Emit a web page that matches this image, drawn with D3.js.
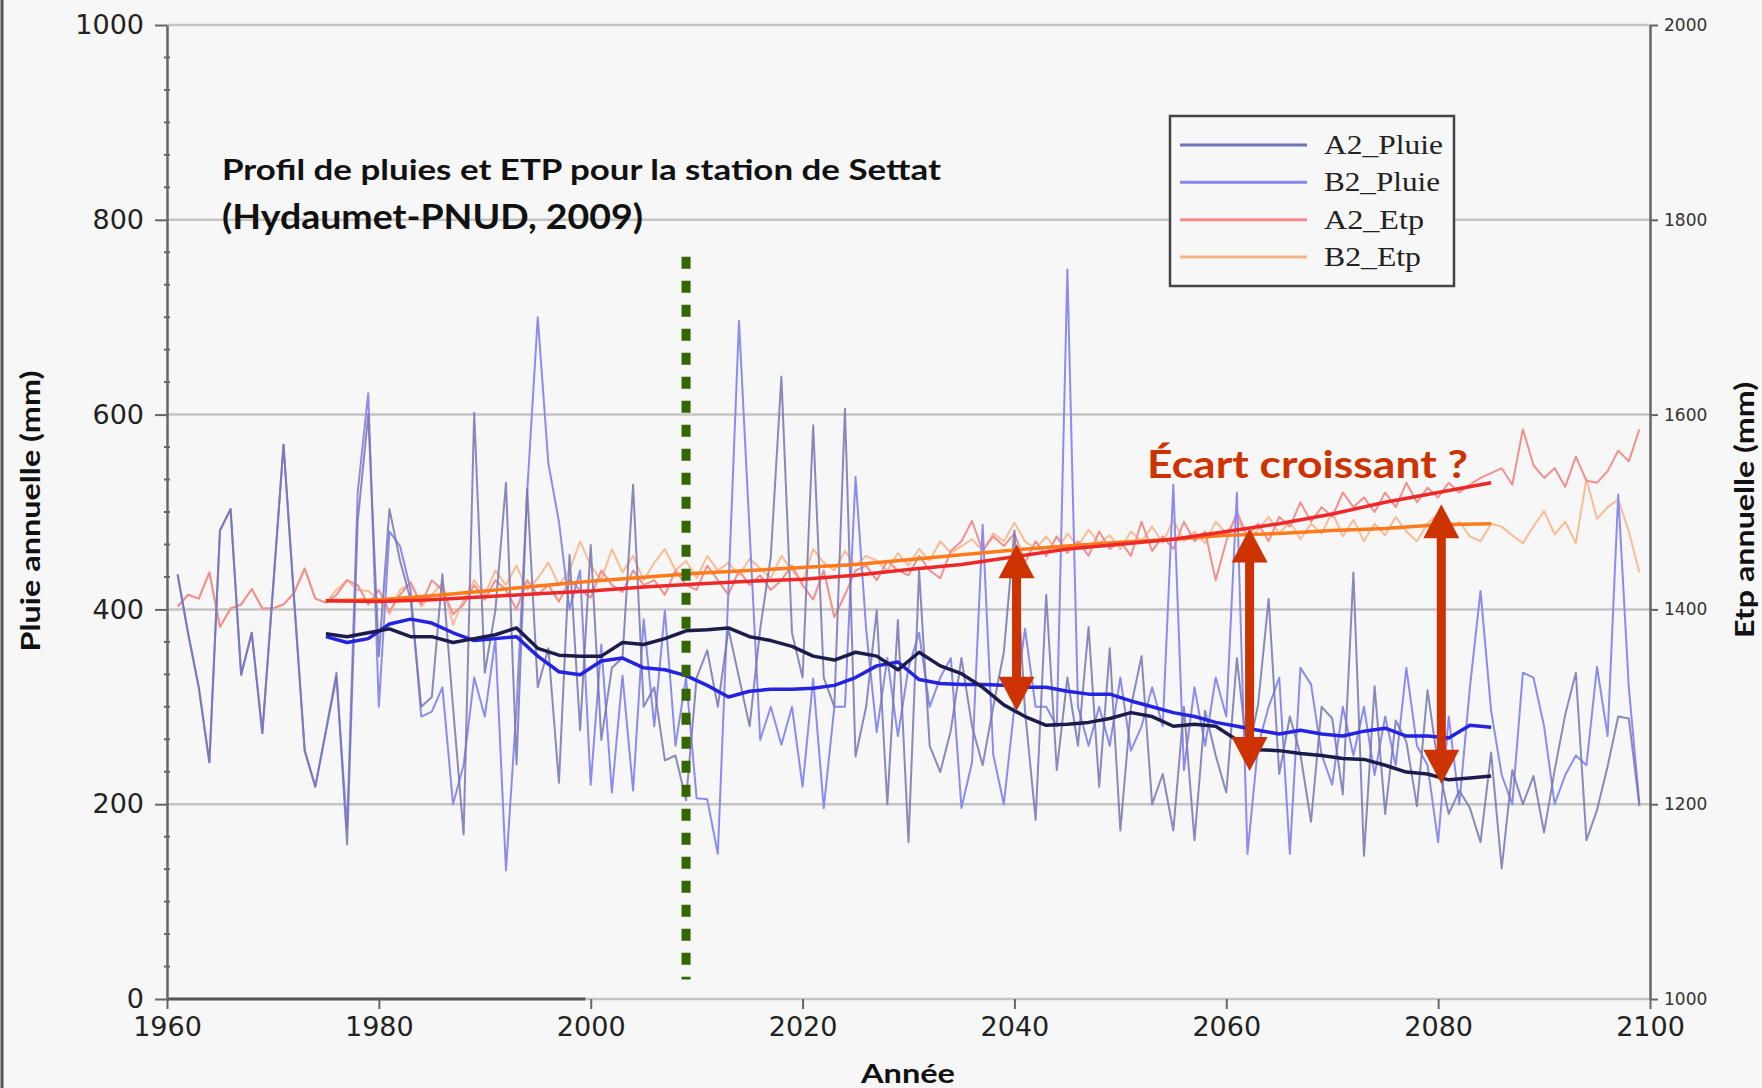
<!DOCTYPE html>
<html><head><meta charset="utf-8">
<script src="https://cdn.jsdelivr.net/npm/d3@7"></script>
<style>html,body{margin:0;padding:0;background:#f7f7f7;} svg{display:block;}</style>
</head><body><svg id="c" width="1762" height="1088"></svg>
<script>
// ---------- DATA ----------
const firstYear = 1961, lastYear = 2099;
const yearTicks = [1960, 1980, 2000, 2020, 2040, 2060, 2080, 2100];
const pluieTicks = [0, 200, 400, 600, 800, 1000];
const etpTicks = [1000, 1200, 1400, 1600, 1800, 2000];

// observed period (common to both scenarios) 1961-1975
const obsPluie = [436, 375, 320, 243, 481, 503, 333, 376, 273, 420, 569, 410, 255, 218, 275];
const obsEtp = [1403, 1415, 1411, 1438, 1382, 1401, 1405, 1421, 1401, 1401, 1405, 1417, 1442, 1411, 1407];

// scenarios 1976-2099
const A2_Pluie = [335, 159, 490, 600, 352, 503, 450, 410, 300, 310, 436, 300, 169, 602, 335, 399, 530, 241, 524, 320,
  360, 222, 456, 276, 466, 266, 340, 350, 528, 300, 320, 245, 250, 204, 330, 358, 300, 380, 330, 280,
  380, 454, 639, 376, 330, 589, 330, 300, 606, 249, 300, 399, 200, 389, 161, 440, 260, 233, 276, 350,
  280, 240, 300, 356, 481, 296, 184, 415, 235, 330, 260, 382, 218, 360, 173, 300, 352, 200, 231, 173,
  300, 163, 296, 250, 212, 350, 250, 302, 411, 231, 290, 251, 182, 300, 288, 210, 438, 147, 321, 190,
  286, 264, 198, 317, 240, 190, 214, 196, 161, 253, 134, 235, 200, 229, 171, 235, 292, 335, 163, 194,
  239, 290, 288, 198];
const B2_Pluie = [330, 175, 520, 622, 300, 480, 465, 420, 290, 295, 320, 200, 240, 330, 290, 370, 132, 300, 520, 700,
  550, 490, 400, 440, 220, 364, 212, 332, 214, 390, 280, 399, 260, 330, 206, 205, 149, 420, 696, 480,
  266, 300, 261, 300, 218, 329, 196, 300, 300, 536, 380, 274, 350, 270, 340, 376, 300, 330, 350, 196,
  243, 487, 251, 200, 300, 380, 300, 300, 280, 749, 300, 260, 300, 260, 330, 255, 280, 320, 280, 528,
  235, 320, 260, 330, 290, 520, 149, 260, 300, 330, 149, 340, 323, 251, 220, 300, 250, 300, 230, 290,
  240, 340, 260, 240, 161, 290, 200, 320, 419, 296, 230, 200, 335, 330, 280, 200, 230, 250, 240, 341,
  270, 518, 320, 200];
const A2_Etp = [1415, 1430, 1425, 1405, 1420, 1398, 1415, 1428, 1405, 1430, 1420, 1395, 1405, 1425, 1410, 1430, 1420, 1400, 1430, 1415,
  1425, 1408, 1430, 1420, 1412, 1440, 1425, 1418, 1440, 1425, 1430, 1415, 1440, 1425, 1420, 1445, 1430, 1415, 1440, 1425,
  1435, 1420, 1430, 1445, 1425, 1410, 1440, 1392, 1415, 1440, 1445, 1430, 1450, 1440, 1435, 1455, 1440, 1432, 1460, 1470,
  1491, 1460, 1475, 1465, 1478, 1448, 1470, 1455, 1475, 1458, 1470, 1455, 1480, 1462, 1470, 1455, 1490, 1460, 1475, 1462,
  1490, 1470, 1480, 1430, 1470, 1500, 1475, 1488, 1470, 1495, 1485, 1510, 1490, 1505, 1495, 1520, 1505, 1515, 1500, 1520,
  1505, 1530, 1510, 1525, 1515, 1530, 1520, 1528, 1535, 1540, 1545, 1528, 1585, 1548, 1535, 1545, 1526, 1557, 1532, 1530,
  1542, 1563, 1552, 1585];
const B2_Etp = [1420, 1430, 1420, 1419, 1410, 1395, 1420, 1427, 1403, 1415, 1427, 1384, 1410, 1430, 1415, 1440, 1425, 1445, 1420, 1432,
  1448, 1425, 1440, 1470, 1445, 1430, 1462, 1438, 1455, 1430, 1448, 1462, 1440, 1450, 1432, 1455, 1440, 1448, 1435, 1452,
  1442, 1432, 1455, 1440, 1428, 1462, 1448, 1440, 1460, 1445, 1455, 1450, 1440, 1458, 1445, 1462, 1450, 1470, 1458, 1465,
  1472, 1460, 1478, 1470, 1489, 1470, 1462, 1475, 1460, 1478, 1465, 1482, 1468, 1476, 1462, 1480, 1470, 1485, 1468, 1492,
  1470, 1480, 1468, 1490, 1478, 1495, 1470, 1482, 1495, 1478, 1490, 1472, 1488, 1478, 1500, 1475, 1492, 1470, 1488, 1476,
  1495, 1480, 1470, 1488, 1498, 1482, 1490, 1475, 1470, 1488, 1485, 1476, 1468, 1485, 1501, 1477, 1490, 1468, 1534, 1493,
  1505, 1513, 1480, 1438];

// 29-year moving averages (read every 2 years, 1975-2085)
const maPluieYears = d3.range(1975, 2086, 2);
const A2_PluieMA = [375, 372, 376, 380, 372, 372, 366, 370, 374, 381, 360, 353, 352, 352, 366, 364, 370, 378, 379, 381,
  372, 368, 362, 352, 348, 356, 352, 338, 356, 342, 334, 320, 302, 290, 281, 282, 284, 288, 294, 290,
  280, 282, 280, 266, 256, 255, 252, 250, 247, 246, 240, 233, 231, 225, 227, 229];
const B2_PluieMA = [372, 366, 370, 385, 390, 386, 376, 368, 370, 372, 352, 336, 333, 347, 350, 340, 338, 332, 322, 310,
  316, 318, 318, 319, 322, 330, 342, 346, 328, 324, 323, 323, 322, 320, 320, 316, 313, 313, 306, 300,
  294, 290, 284, 280, 276, 272, 276, 272, 270, 275, 278, 270, 270, 268, 281, 279];
// ETP moving averages (read every 5 years, 1975-2085)
const maEtpYears = d3.range(1975, 2086, 5);
const A2_EtpMA = [1409, 1408, 1410, 1413, 1416, 1419, 1423, 1426, 1429, 1431, 1435, 1441, 1446, 1454, 1462, 1467, 1472, 1480, 1488, 1498, 1510, 1520, 1530];
const B2_EtpMA = [1409, 1410, 1414, 1419, 1424, 1429, 1433, 1437, 1440, 1443, 1446, 1451, 1456, 1461, 1465, 1469, 1472, 1476, 1478, 1481, 1483, 1487, 1488];

// annotations
const presentYear = 2009, presentTop = 762, presentBottom = 20;
const arrowYears = [2040.2, 2062.2, 2080.3];
const arrowTop = [467, 483, 508];
const arrowBottom = [296, 234, 221];
const legendLabels = ["A2_Pluie", "B2_Pluie", "A2_Etp", "B2_Etp"];

// ---------- DRAW ----------
const svg = d3.select("#c");
const x = d3.scaleLinear().domain([1960, 2100]).range([167, 1650]);
const yL = d3.scaleLinear().domain([0, 1000]).range([999, 25]);
const yR = d3.scaleLinear().domain([1000, 2000]).range([999, 25]);

svg.append("rect").attr("width", 1762).attr("height", 1088).attr("fill", "#f7f7f7");
svg.append("line").attr("x1", 2).attr("x2", 2).attr("y1", 0).attr("y2", 1088).attr("stroke", "#555").attr("stroke-width", 3);

// gridlines
svg.append("g").selectAll("line").data(pluieTicks).join("line")
  .attr("x1", x(1960)).attr("x2", x(2100))
  .attr("y1", d => yL(d)).attr("y2", d => yL(d))
  .attr("stroke", "#c4c4c4").attr("stroke-width", 2.5);
svg.append("line").attr("x1", x(1960)).attr("x2", x(1999.5)).attr("y1", yL(0)).attr("y2", yL(0))
  .attr("stroke", "#555").attr("stroke-width", 3);

// left axis
const gL = svg.append("g").attr("transform", `translate(${x(1960)},0)`)
  .call(d3.axisLeft(yL).tickValues(pluieTicks).tickFormat(d3.format("d")).tickSize(12).tickSizeOuter(0).tickPadding(11));
gL.select(".domain").attr("stroke", "#666").attr("stroke-width", 2.5);
gL.selectAll(".tick line").attr("stroke", "#666").attr("stroke-width", 2);
gL.selectAll("text").attr("font-family", "DejaVu Sans").attr("font-size", 27).attr("fill", "#222");
// minor ticks
const minor = d3.range(0, 1001, 200 / 6).filter(v => Math.abs(v / 200 - Math.round(v / 200)) > 0.01);
svg.append("g").selectAll("line").data(minor).join("line")
  .attr("x1", x(1960) - 3).attr("x2", x(1960) + 3)
  .attr("y1", d => yL(d)).attr("y2", d => yL(d)).attr("stroke", "#666").attr("stroke-width", 2);

// right axis
const gR = svg.append("g").attr("transform", `translate(${x(2100)},0)`)
  .call(d3.axisRight(yR).tickValues(etpTicks).tickFormat(d3.format("d")).tickSize(8).tickSizeOuter(0).tickPadding(6));
gR.select(".domain").attr("stroke", "#666").attr("stroke-width", 2.5);
gR.selectAll(".tick line").attr("stroke", "#666").attr("stroke-width", 2);
gR.selectAll("text").attr("font-family", "DejaVu Sans").attr("font-size", 17).attr("fill", "#333");

// bottom axis
const gB = svg.append("g").attr("transform", `translate(0,${yL(0)})`)
  .call(d3.axisBottom(x).tickValues(yearTicks).tickFormat(d3.format("d")).tickSize(10).tickSizeOuter(0).tickPadding(8));
gB.select(".domain").remove();
gB.selectAll(".tick line").attr("stroke", "#666").attr("stroke-width", 2);
gB.selectAll("text").attr("font-family", "DejaVu Sans").attr("font-size", 27).attr("fill", "#222");

// series
const yearsFut = d3.range(1976, lastYear + 1);
const yearsObs = d3.range(firstYear, 1976);
const mk = (obs, fut) => yearsObs.map((yr, i) => ({yr, v: obs[i]})).concat(yearsFut.map((yr, i) => ({yr, v: fut[i]})));
const lineL = d3.line().x(d => x(d.yr)).y(d => yL(d.v));
const lineR = d3.line().x(d => x(d.yr)).y(d => yR(d.v));

const plot = svg.append("g").attr("fill", "none").attr("stroke-linejoin", "round");
plot.append("path").datum(mk(obsEtp, B2_Etp)).attr("d", lineR).attr("stroke", "#f8bc96").attr("stroke-width", 2);
plot.append("path").datum(mk(obsEtp, A2_Etp)).attr("d", lineR).attr("stroke", "#f09090").attr("stroke-width", 2);
plot.append("path").datum(mk(obsPluie, B2_Pluie)).attr("d", lineL).attr("stroke", "#8c8cf0").attr("stroke-width", 2);
plot.append("path").datum(mk(obsPluie, A2_Pluie)).attr("d", lineL).attr("stroke", "#7676b2").attr("stroke-width", 2).attr("stroke-opacity", 0.85);

const maL = (arr) => maPluieYears.map((yr, i) => ({yr, v: arr[i]}));
const maR = (arr) => maEtpYears.map((yr, i) => ({yr, v: arr[i]}));
plot.append("path").datum(maR(B2_EtpMA)).attr("d", lineR).attr("stroke", "#ff7a1a").attr("stroke-width", 3.5);
plot.append("path").datum(maR(A2_EtpMA)).attr("d", lineR).attr("stroke", "#ee2828").attr("stroke-width", 3.5);
plot.append("path").datum(maL(B2_PluieMA)).attr("d", lineL).attr("stroke", "#2323e0").attr("stroke-width", 3.5);
plot.append("path").datum(maL(A2_PluieMA)).attr("d", lineL).attr("stroke", "#1c1c4c").attr("stroke-width", 3.5);

// present-day dotted line
svg.append("line").attr("x1", x(presentYear)).attr("x2", x(presentYear))
  .attr("y1", yL(presentTop)).attr("y2", yL(presentBottom))
  .attr("stroke", "#336600").attr("stroke-width", 9).attr("stroke-dasharray", "12,12");

// arrows
const hl = 34, hw = 18, sw = 4.5;
svg.append("g").selectAll("path").data(arrowYears).join("path")
  .attr("d", (yr, i) => {
    const xa = x(yr), t = yL(arrowTop[i]), b = yL(arrowBottom[i]);
    return `M${xa},${t}L${xa + hw},${t + hl}L${xa + sw},${t + hl}L${xa + sw},${b - hl}L${xa + hw},${b - hl}L${xa},${b}` +
      `L${xa - hw},${b - hl}L${xa - sw},${b - hl}L${xa - sw},${t + hl}L${xa - hw},${t + hl}Z`;
  })
  .attr("fill", "#cc3300");

// texts
const bold = "Lato, 'Open Sans', sans-serif";
svg.append("text").attr("x", 222).attr("y", 180).attr("font-family", bold).attr("font-weight", 700)
  .attr("font-size", 29).attr("textLength", 719).attr("lengthAdjust", "spacingAndGlyphs").attr("fill", "#111")
  .text("Profil de pluies et ETP pour la station de Settat");
svg.append("text").attr("x", 222).attr("y", 229).attr("font-family", bold).attr("font-weight", 700)
  .attr("font-size", 34).attr("textLength", 421).attr("lengthAdjust", "spacingAndGlyphs").attr("fill", "#111")
  .text("(Hydaumet-PNUD, 2009)");
svg.append("text").attr("x", 1147).attr("y", 478).attr("font-family", bold).attr("font-weight", 700)
  .attr("font-size", 38).attr("textLength", 321).attr("lengthAdjust", "spacingAndGlyphs").attr("fill", "#cc3300")
  .text("Écart croissant ?");
svg.append("text").attr("transform", "translate(40,511) rotate(-90)").attr("text-anchor", "middle")
  .attr("font-family", bold).attr("font-weight", 700).attr("font-size", 26)
  .attr("textLength", 281).attr("lengthAdjust", "spacingAndGlyphs").attr("fill", "#111")
  .text("Pluie annuelle (mm)");
svg.append("text").attr("transform", "translate(1754,510) rotate(-90)").attr("text-anchor", "middle")
  .attr("font-family", bold).attr("font-weight", 700).attr("font-size", 26)
  .attr("textLength", 256).attr("lengthAdjust", "spacingAndGlyphs").attr("fill", "#111")
  .text("Etp annuelle (mm)");
svg.append("text").attr("x", 908).attr("y", 1083).attr("text-anchor", "middle")
  .attr("font-family", bold).attr("font-weight", 700).attr("font-size", 27)
  .attr("textLength", 94).attr("lengthAdjust", "spacingAndGlyphs").attr("fill", "#111")
  .text("Année");

// legend
const leg = svg.append("g");
leg.append("rect").attr("x", 1170).attr("y", 116).attr("width", 284).attr("height", 170)
  .attr("fill", "#f7f7f7").attr("stroke", "#444").attr("stroke-width", 2.5);
const legColors = ["#7272b4", "#8585ee", "#f48a8a", "#f6b48c"];
const legLen = [119, 116, 100, 97];
const legY = d3.scalePoint().domain(legendLabels).range([145, 257]);
legendLabels.forEach((lab, i) => {
  leg.append("line").attr("x1", 1180).attr("x2", 1307).attr("y1", legY(lab)).attr("y2", legY(lab))
    .attr("stroke", legColors[i]).attr("stroke-width", 3);
  leg.append("text").attr("x", 1324).attr("y", legY(lab) + 9).attr("font-family", "'Liberation Serif', serif")
    .attr("font-size", 27).attr("textLength", legLen[i]).attr("lengthAdjust", "spacingAndGlyphs")
    .attr("fill", "#222").text(lab);
});
</script></body></html>
